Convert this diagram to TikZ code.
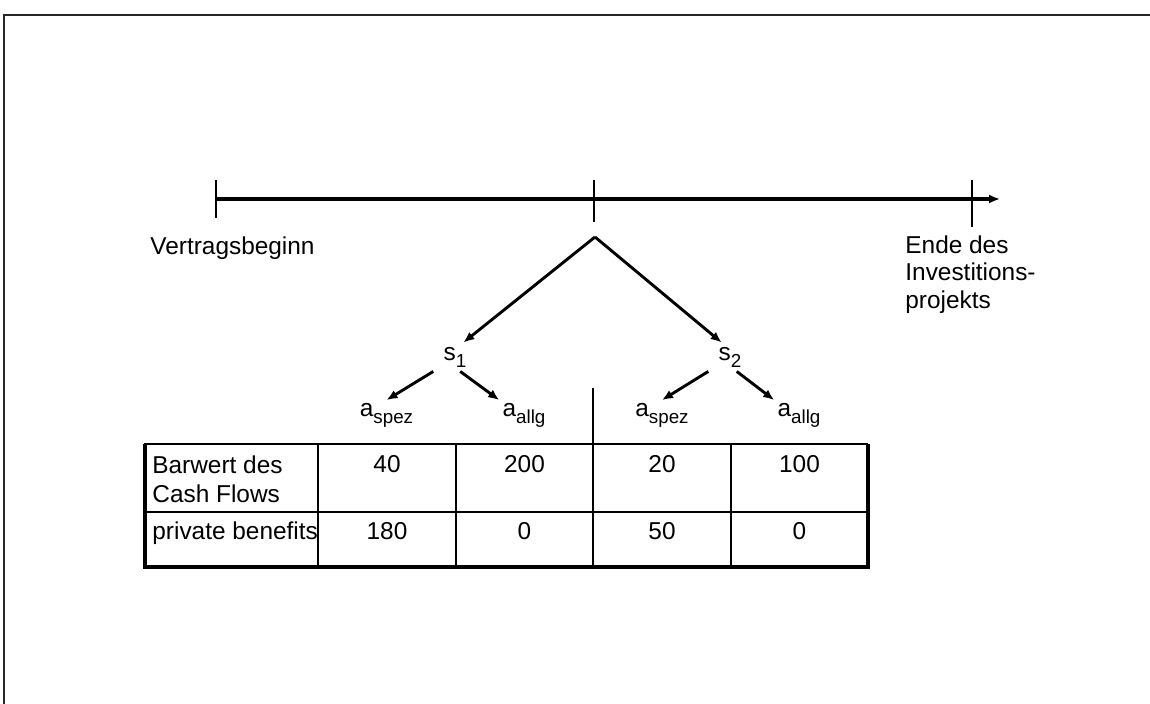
\documentclass[tikz,border=0pt]{standalone}
\usepackage{fontspec}
\setmainfont{Liberation Sans}
\usetikzlibrary{arrows.meta}
\usetikzlibrary{positioning}
\usetikzlibrary{calc}
\newcommand{\sbs}[1]{\raisebox{-3.5pt}{\fontsize{9.4}{9}\selectfont #1}}
\tikzstyle{state}=[inner xsep=5pt, inner ysep=2pt]
\tikzstyle{action}=[inner sep=1.5pt]
\tikzstyle{edge}=[draw, line width=1.45pt, -{Latex[length=5.5pt,width=4.6pt]}]
\tikzstyle{tick}=[draw, line width=0.6pt]
\tikzstyle{gridline}=[draw, line width=0.7pt]
\tikzstyle{borderline}=[draw, line width=1.6pt]
\tikzstyle{weight}=[inner sep=0pt]

\begin{document}
\begin{tikzpicture}[x=0.5pt, y=-0.5pt, every node/.style={font=\fontsize{12.2}{13.8}\selectfont}]
    \useasboundingbox (0,0) rectangle (1150,704);
    % frame of the slide
    \draw[line width=1pt, black!85] (1150,15) -- (4,15) -- (4,704);

    % time line with three ticks
    \coordinate (T0) at (216,199);
    \coordinate (T1) at (594,199);
    \coordinate (T2) at (972,199);
    \coordinate (Tend) at (1000,199);
    \draw[edge, line width=1.6pt] (T0) -- (Tend);
    \foreach \x/\lo in {216/218, 594/222, 972/227}
        \draw[tick] (\x,180) -- (\x,\lo);

    \node[weight, anchor=base west] (vb) at (150,255) {Vertragsbeginn};
    \node[weight, anchor=north west, align=left] (ende) at (905,235) {Ende des\\Investitions-\\projekts};

    % states and actions
    \coordinate (apex) at (595,237);
    \node[state] (s1) at (455,357) {s\sbs{1}};
    \node[state] (s2) at (730,357) {s\sbs{2}};

    \foreach \pos/\name/\label in {{(386.5,415.5)/a1/spez}, {(524,415.5)/b1/allg}, {(662,415.5)/a2/spez}, {(799,415.5)/b2/allg}}
        \node[action] (\name) at \pos {a\sbs{\label}};

    % Connect the tree
    \path[edge] (apex) -- (s1.60);
    \path[edge] (apex) -- (s2.120);
    \path[edge] (s1.south west) -- (a1.north);
    \path[edge] (s1.-70) -- (b1.north west);
    \path[edge] (s2.south west) -- (a2.north);
    \path[edge] (s2.-65) -- (b2.north west);

    % table
    \draw[gridline] (144,444) -- (868,444);
    \draw[gridline] (144,512) -- (868,512);
    \foreach \x in {318,456,731}
        \draw[gridline] (\x,444) -- (\x,567);
    \draw[gridline] (593,388) -- (593,567);
    \draw[borderline] (145,444) -- (145,567) -- (868,567) -- (868,444);

    \node[weight, anchor=north west, align=left, font=\fontsize{12.2}{14.5}\selectfont] (rowa) at (152,455) {Barwert des\\Cash Flows};
    \node[weight, anchor=base west] (rowb) at (152,540) {private benefits};
    \foreach \x/\name/\va/\vb in {387/c1/40/180, 524.5/c2/200/0, 662/c3/20/50, 799.5/c4/100/0} {
        \node[weight, anchor=base] (\name a) at (\x,473) {\va};
        \node[weight, anchor=base] (\name b) at (\x,540) {\vb};
    }
\end{tikzpicture}
\end{document}
